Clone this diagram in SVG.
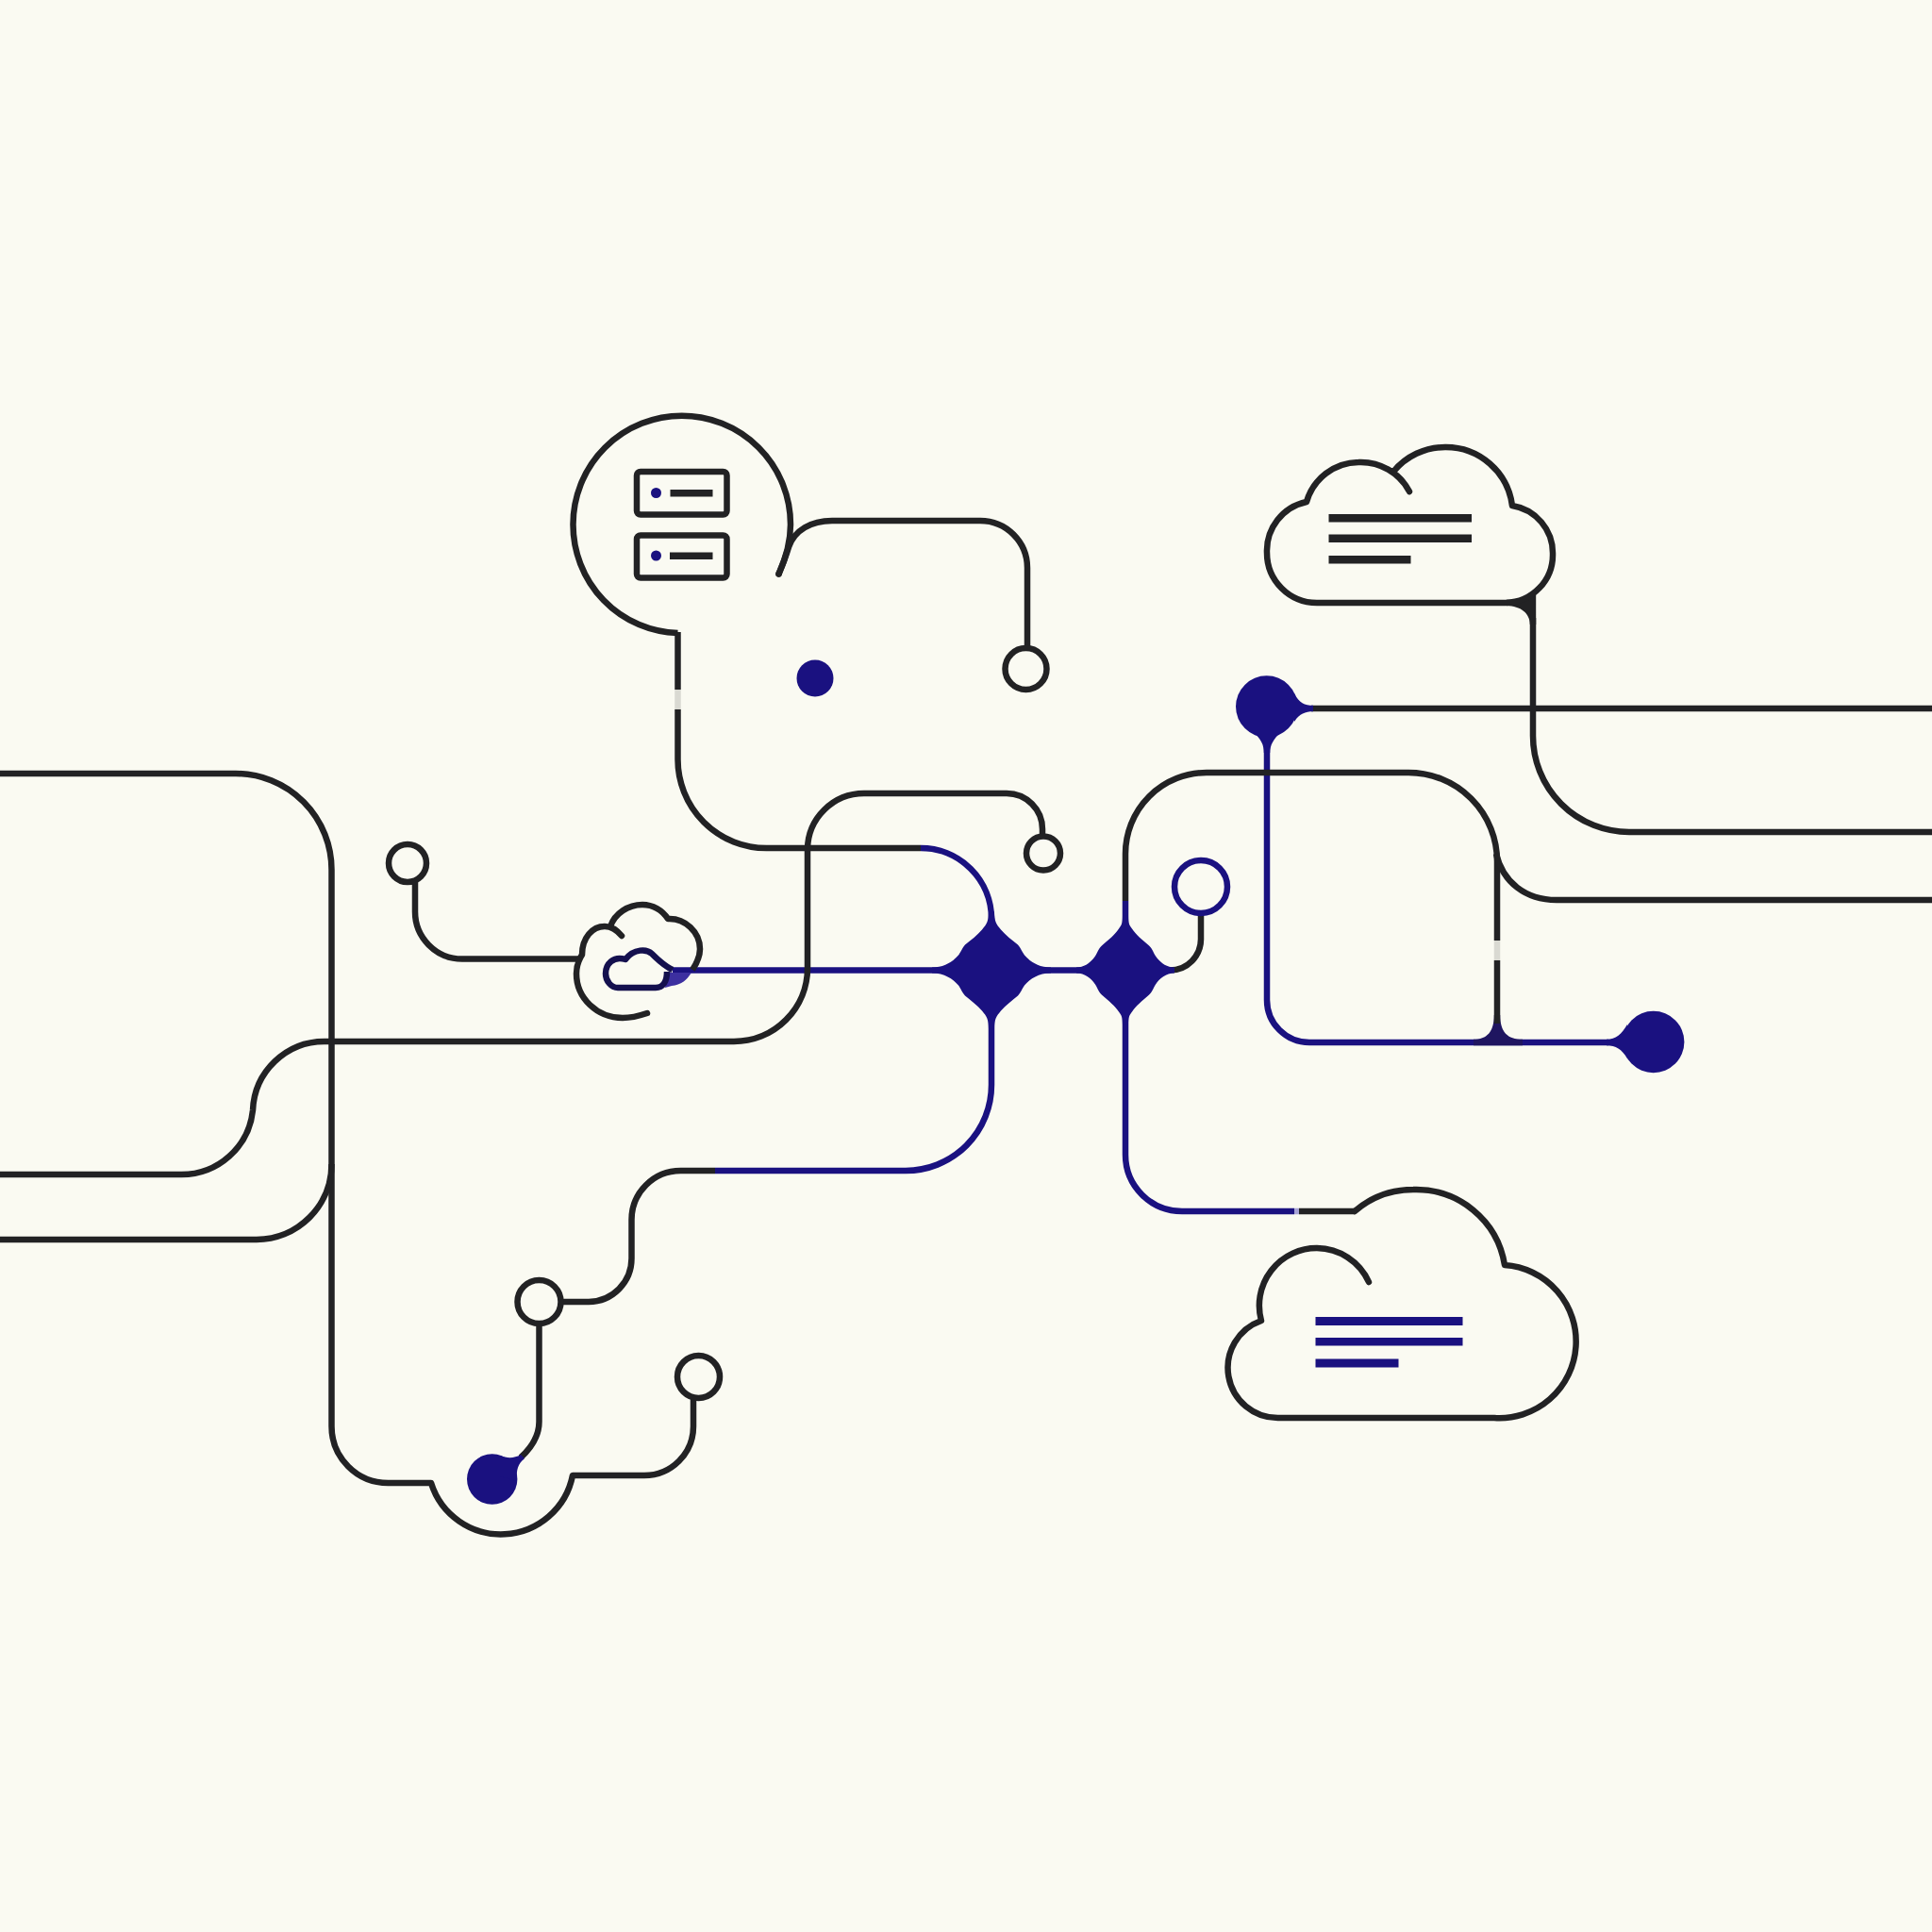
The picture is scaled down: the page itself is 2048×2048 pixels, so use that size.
<svg xmlns="http://www.w3.org/2000/svg" width="2048" height="2048" viewBox="0 0 2048 2048">
<style>
.k{fill:none;stroke:#222224;stroke-width:6.5;stroke-linecap:butt;stroke-linejoin:round}
.r{stroke-linecap:round}
.n{fill:none;stroke:#1a1180;stroke-width:6.5;stroke-linejoin:round}
.f{fill:#1a1180}
.d{fill:#222224}
.h{fill:#fafaf2;stroke:#222224;stroke-width:6.5}
.p{stroke:#d9d9d2;stroke-width:6.5;fill:none}
</style>
<defs>
<path id="star" d="M3,-62 C3,-52 5,-49 10,-43 C15,-37 22,-32 28,-27 C31,-24 32,-20 35,-16 C41,-9 50,-3 63,-3 L63,3 C50,3 41,9 35,16 C32,20 31,24 28,27 C22,32 15,37 10,43 C5,49 3,52 3,62 L-3,62 C-3,52 -5,49 -10,43 C-15,37 -22,32 -28,27 C-31,24 -32,20 -35,16 C-41,9 -50,3 -63,3 L-63,-3 C-50,-3 -41,-9 -35,-16 C-32,-20 -31,-24 -28,-27 C-22,-32 -15,-37 -10,-43 C-5,-49 -3,-52 -3,-62 Z"/>
<path id="star2" d="M3,-58 C3,-50 4,-48 7,-44 C11,-38 18,-32 24,-27 C28,-24 29,-20 32,-15 C36,-9 43,-3 52,-3 L52,3 C43,3 36,9 32,15 C29,20 28,24 24,27 C18,32 11,38 7,44 C4,48 3,50 3,58 L-3,58 C-3,50 -4,48 -7,44 C-11,38 -18,32 -24,27 C-28,24 -29,20 -32,15 C-36,9 -43,3 -52,3 L-52,-3 C-43,-3 -36,-9 -32,-15 C-29,-20 -28,-24 -24,-27 C-18,-32 -11,-38 -7,-44 C-4,-48 -3,-50 -3,-58 Z"/>
</defs>
<rect width="2048" height="2048" fill="#fafaf2"/>
<g id="connectors">
<path class="n" d="M713,1028.5 L1193,1028.5"/>
<path class="n" d="M976,899 A75,75 0 0 1 1051,974 L1051,1150 A91,91 0 0 1 960,1241 L758,1241"/>
<path class="n" d="M1193,955 L1193,1224 A60,60 0 0 0 1253,1284 L1372,1284"/>
<path class="n" d="M1343,790 L1343,1060 A45,45 0 0 0 1388,1105 L1705,1105"/>
<path class="n" d="M1193,1028.5 L1240,1028.5"/>
<path d="M1562,1101.8 C1576,1101.8 1583.8,1094 1583.8,1076 L1590.2,1076 C1590.2,1094 1598,1101.8 1614,1101.8 L1614,1108.2 L1562,1108.2 Z" fill="#1f1560"/>
<path class="k" d="M0,820 L250,820 A102,102 0 0 1 351.5,922 L351.5,1512 A60,60 0 0 0 411.5,1572 L457,1572 A77.5,77.5 0 0 0 607,1564 L683,1564 A52,52 0 0 0 735,1512 L735,1480"/>
<path class="k" d="M0,1245 L192,1245 A76,76 0 0 0 268,1177 A76,76 0 0 1 344,1104 L778,1104 A78,78 0 0 0 856,1026 L856,900 A60,60 0 0 1 916,841 L1067,841 A38,38 0 0 1 1105,879 L1105,887"/>
<path class="k" d="M0,1314 L272,1314 A80,80 0 0 0 351.5,1234"/>
<path class="k" d="M718.5,670 L718.5,731"/><path class="p" d="M718.5,731 L718.5,752"/>
<path class="k" d="M718.5,752 L718.5,805 A94,94 0 0 0 812.5,899 L976,899"/>
<path class="k r" d="M825.5,608.5 C829,600 833,590 836,580 C842,562 860,552 882,552 L1039,552 A50,50 0 0 1 1089,602 L1089,687"/>
<path class="k" d="M1193,955 L1193,905 A86,86 0 0 1 1279,819 L1493,819 A94,94 0 0 1 1587,913 L1587,997"/>
<path class="p" d="M1587,997 L1587,1018"/>
<path class="k" d="M1587,1018 L1587,1085"/>
<path class="k" d="M1586,905 C1593,935 1617,954 1650,954 L2048,954"/>
<path class="k" d="M1390,751 L2048,751"/>
<path class="k" d="M1625,655 L1625,780 A102,102 0 0 0 1727,882 L2048,882"/>
<path class="k" d="M1240,1028.5 A33,33 0 0 0 1273,995 L1273,965"/>
<path class="k" d="M595,1380 L624,1380 A46,46 0 0 0 669.5,1334 L669.5,1293 A52,52 0 0 1 721.5,1241 L758,1241"/>
<path class="k" d="M571.5,1400 L571.5,1507 C571.5,1522 564,1534 552,1545"/>
<path class="k" d="M440,930 L440,966 A50,50 0 0 0 490,1016.5 L614,1016.5"/>
<path class="k" d="M1377,1284 L1436,1284"/>
<path class="p" d="M1372,1284 L1377,1284" style="stroke:#a7a3d6"/>
<path d="M1597,635.8 C1612,635.8 1622,632 1628.2,628 L1628.2,662 L1621.8,662 C1621.8,650 1612,642.2 1597,642.2 Z" class="d"/>
</g>
<g id="speech-bubble">
<path class="k" d="M825.5,608.5 C832,594 838,576 838,556 A115,115 0 0 0 607.5,556 A114,115 0 0 0 718.5,671"/>
<circle class="d" cx="825.5" cy="608.5" r="3.25"/>
<rect class="k" x="675" y="500" width="95.5" height="45.5" rx="4"/>
<rect class="k" x="675" y="567.5" width="95.5" height="45" rx="4"/>
<circle class="f" cx="695.5" cy="522.5" r="5.5"/>
<circle class="f" cx="695.5" cy="589" r="5.5"/>
<rect class="d" x="710.5" y="519" width="45" height="7.5"/>
<rect class="d" x="710" y="585.5" width="45.5" height="7.5"/>
</g>
<g id="dot-center"><circle class="f" cx="864" cy="719" r="19.5"/></g>
<g id="node-circle-top"><circle class="h" cx="1087.5" cy="709" r="22"/></g>
<g id="node-circle-mid"><circle class="h" cx="1106" cy="904.5" r="18"/></g>
<g id="node-circle-left"><circle class="h" cx="432" cy="915" r="20"/></g>
<g id="node-circle-low"><circle class="h" cx="571.5" cy="1380" r="23"/></g>
<g id="node-circle-low2"><circle class="h" cx="740.5" cy="1459.5" r="22.5"/></g>
<g id="node-circle-navy"><circle cx="1273" cy="940" r="28" fill="#fafaf2" stroke="#1a1180" stroke-width="6.5"/></g>
<g id="star-a"><use href="#star" class="f" transform="translate(1051,1028.5)"/></g>
<g id="star-b"><use href="#star2" class="f" transform="translate(1193,1028.5)"/></g>
<g id="blob-top">
<circle class="f" cx="1342.7" cy="749" r="32.7"/>
<path class="f" d="M1372,735 C1377,745 1383,747.8 1392,747.8 L1392,754.2 C1383,754.2 1377,757 1372,765 Z"/>
<path class="f" d="M1328,776 C1337,783 1339.8,790 1339.8,798 L1346.2,798 C1346.2,790 1350,783 1358,776 Z"/>
</g>
<g id="blob-right">
<circle class="f" cx="1752.7" cy="1104.5" r="32.7"/>
<path class="f" d="M1725,1086 C1719,1096 1713,1101.8 1703,1101.8 L1703,1108.2 C1713,1108.2 1719,1112 1725,1122 Z"/>
</g>
<g id="blob-low">
<circle class="f" cx="521.7" cy="1568" r="26.7"/>
<path class="f" d="M530,1543 C538,1546 545,1546 552,1542 L556,1546 C549,1552 547,1558 548,1570 L530,1565 Z"/>
</g>
<g id="cloud-top">
<path class="k r" d="M1494,521 A58,58 0 0 0 1440,490 A58,58 0 0 0 1385,532 A53,53 0 0 0 1343,586 A53,53 0 0 0 1396,639 L1596,639 A51,51 0 0 0 1646,587 A51,51 0 0 0 1603,536 A71,71 0 0 0 1532,474 A71,71 0 0 0 1477,500"/>
<rect class="d" x="1408.5" y="545" width="151.5" height="8.5"/>
<rect class="d" x="1408.5" y="566.5" width="151.5" height="8.5"/>
<rect class="d" x="1408.5" y="589" width="87" height="8.5"/>
</g>
<g id="cloud-bottom">
<path class="k r" d="M1451,1359 A61,61 0 0 0 1396,1323 A61,61 0 0 0 1337,1400 A53,53 0 0 0 1355,1503 L1584,1503 A81,81 0 0 0 1595,1341 A95,95 0 0 0 1498,1261 A95,95 0 0 0 1436,1284"/>
<rect class="f" x="1394.5" y="1396" width="156" height="9"/>
<rect class="f" x="1394.5" y="1418" width="156" height="8.5"/>
<rect class="f" x="1394.5" y="1440.5" width="88" height="9"/>
</g>
<g id="cloud-small">
<path d="M707,1031 L733,1031 C728,1039 722,1044 712,1045 L705,1047 Z" fill="#3c2fa0"/>
<path class="k r" d="M659,992 C654,986 647,982 641,982 C628,982 617,994 617,1012 C612,1020 611,1026 611,1032 C611,1058 633,1079 660,1079 C668,1079 677,1077 686,1074"/>
<path class="k" d="M647,982 C652,968 666,959 681,959 C692,959 702,965 708,974 C726,973 742,988 742,1006 C742,1014 738,1022 734,1028"/>
<path d="M713,1028 C704,1024 698,1018 691,1011 C686,1006 672,1005 663,1017 C650,1013 642,1022 642,1032 C642,1040 648,1047 655,1047 L695,1047 C703,1047 707,1040 707,1030" fill="none" stroke="#14104e" stroke-width="6.5" stroke-linejoin="round"/>
</g>
</svg>
